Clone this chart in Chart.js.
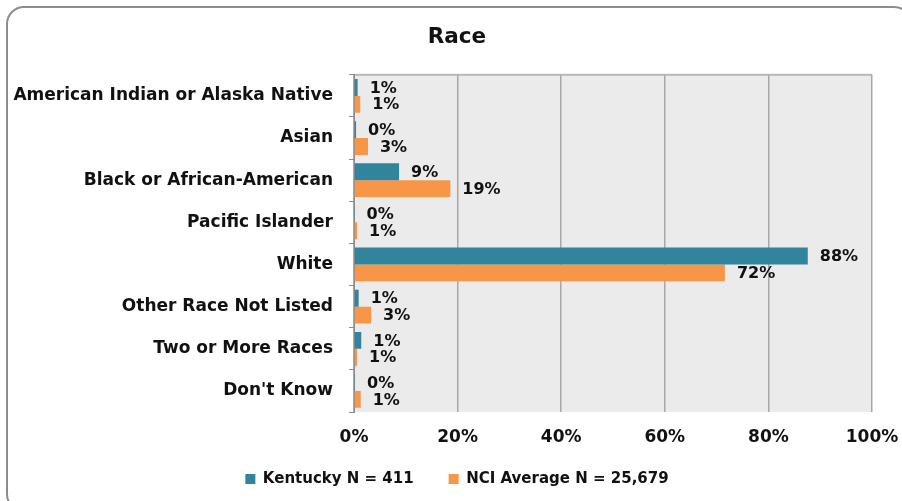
<!DOCTYPE html>
<html>
<head>
<meta charset="utf-8">
<script src="https://cdn.jsdelivr.net/npm/chart.js@4.4.1/dist/chart.umd.min.js"></script>
<style>
  html, body { margin: 0; padding: 0; background: #fff; overflow: hidden; }
  #wrap { position: relative; width: 902px; height: 501px; }
  #frame {
    position: absolute; left: 6px; top: 6px; width: 906px; height: 506px;
    border: 2px solid #8c8c8c; border-radius: 18px; box-sizing: border-box;
  }
  canvas { position: absolute; left: 0; top: 0; }
</style>
</head>
<body>
<div id="wrap">
  <div id="frame"></div>
  <canvas id="chart" width="902" height="501"></canvas>
</div>
<script>
const categories = [
  "American Indian or Alaska Native",
  "Asian",
  "Black or African-American",
  "Pacific Islander",
  "White",
  "Other Race Not Listed",
  "Two or More Races",
  "Don't Know",
];
const kentucky = [0.7, 0.4, 8.7, 0.1, 87.6, 0.9, 1.4, 0.2];
const nciAverage = [1.2, 2.7, 18.6, 0.6, 71.6, 3.3, 0.6, 1.3];
const seriesNames = ["Kentucky N = 411", "NCI Average N = 25,679"];
const xTicks = [0, 20, 40, 60, 80, 100];

const FONT = '"DejaVu Sans", Verdana, sans-serif';

// grey plot background, painted before the grid lines, plus a top edge
const plotBackground = {
  id: "plotBackground",
  beforeDraw(chart) {
    const { ctx, chartArea: a } = chart;
    ctx.save();
    ctx.fillStyle = "#ebebeb";
    ctx.fillRect(a.left, a.top, a.right - a.left, a.bottom - a.top);
    ctx.fillStyle = "#b8b8b8";
    ctx.fillRect(a.left, a.top - 1, a.right - a.left, 2);
    ctx.restore();
  },
};

// percent labels to the right of each bar
const barLabels = {
  id: "barLabels",
  afterDatasetsDraw(chart) {
    const ctx = chart.ctx;
    ctx.save();
    ctx.font = "bold 16px " + FONT;
    ctx.fillStyle = "#111";
    ctx.textBaseline = "middle";
    ctx.textAlign = "left";
    chart.data.datasets.forEach((ds, i) => {
      chart.getDatasetMeta(i).data.forEach((bar, j) => {
        ctx.fillText(Math.round(ds.data[j]) + "%", bar.x + 12, bar.y + 1);
      });
    });
    ctx.restore();
  },
};

new Chart(document.getElementById("chart").getContext("2d"), {
  type: "bar",
  data: {
    labels: categories,
    datasets: [
      { label: seriesNames[0], data: kentucky, backgroundColor: "#31849b" },
      { label: seriesNames[1], data: nciAverage, backgroundColor: "#f79646" },
    ],
  },
  options: {
    indexAxis: "y",
    responsive: false,
    animation: false,
    layout: { padding: { left: 42, right: 30, top: 0, bottom: 4.5 } },
    datasets: { bar: { categoryPercentage: 0.8, barPercentage: 1.0 } },
    scales: {
      x: {
        min: 0,
        max: 100,
        afterBuildTicks(scale) {
          scale.ticks = xTicks.map((v) => ({ value: v }));
        },
        afterFit(scale) {
          // labels hang over the legend band and the right margin, so keep them unclipped
          scale.height = 24.5;
          scale.paddingLeft = 0;
          scale.paddingRight = 0;
          scale._computeLabelArea = () => undefined;
        },
        ticks: {
          padding: 15,
          color: "#111",
          font: { family: FONT, size: 17, weight: "bold" },
          callback: (v) => v + "%",
        },
        grid: { color: "#a8a8a8", lineWidth: 1.5, drawTicks: false },
        border: { display: false },
      },
      y: {
        afterFit(scale) {
          scale.width = 354 - 42;
          scale._computeLabelArea = () => undefined;
        },
        ticks: {
          padding: 16,
          color: "#111",
          font: { family: FONT, size: 17, weight: "bold" },
        },
        grid: { drawOnChartArea: false, tickLength: 5, color: "#8c8c8c" },
        border: { color: "#8c8c8c" },
      },
    },
    plugins: {
      title: {
        display: true,
        text: "Race",
        color: "#111",
        font: { family: FONT, size: 21.5, weight: "bold" },
        padding: { top: 25, bottom: 24 },
      },
      legend: {
        position: "bottom",
        labels: {
          boxWidth: 10,
          boxHeight: 10,
          padding: 35,
          color: "#111",
          font: { family: FONT, size: 15, weight: "bold" },
        },
      },
      tooltip: { enabled: false },
    },
  },
  plugins: [plotBackground, barLabels],
});
</script>
</body>
</html>
